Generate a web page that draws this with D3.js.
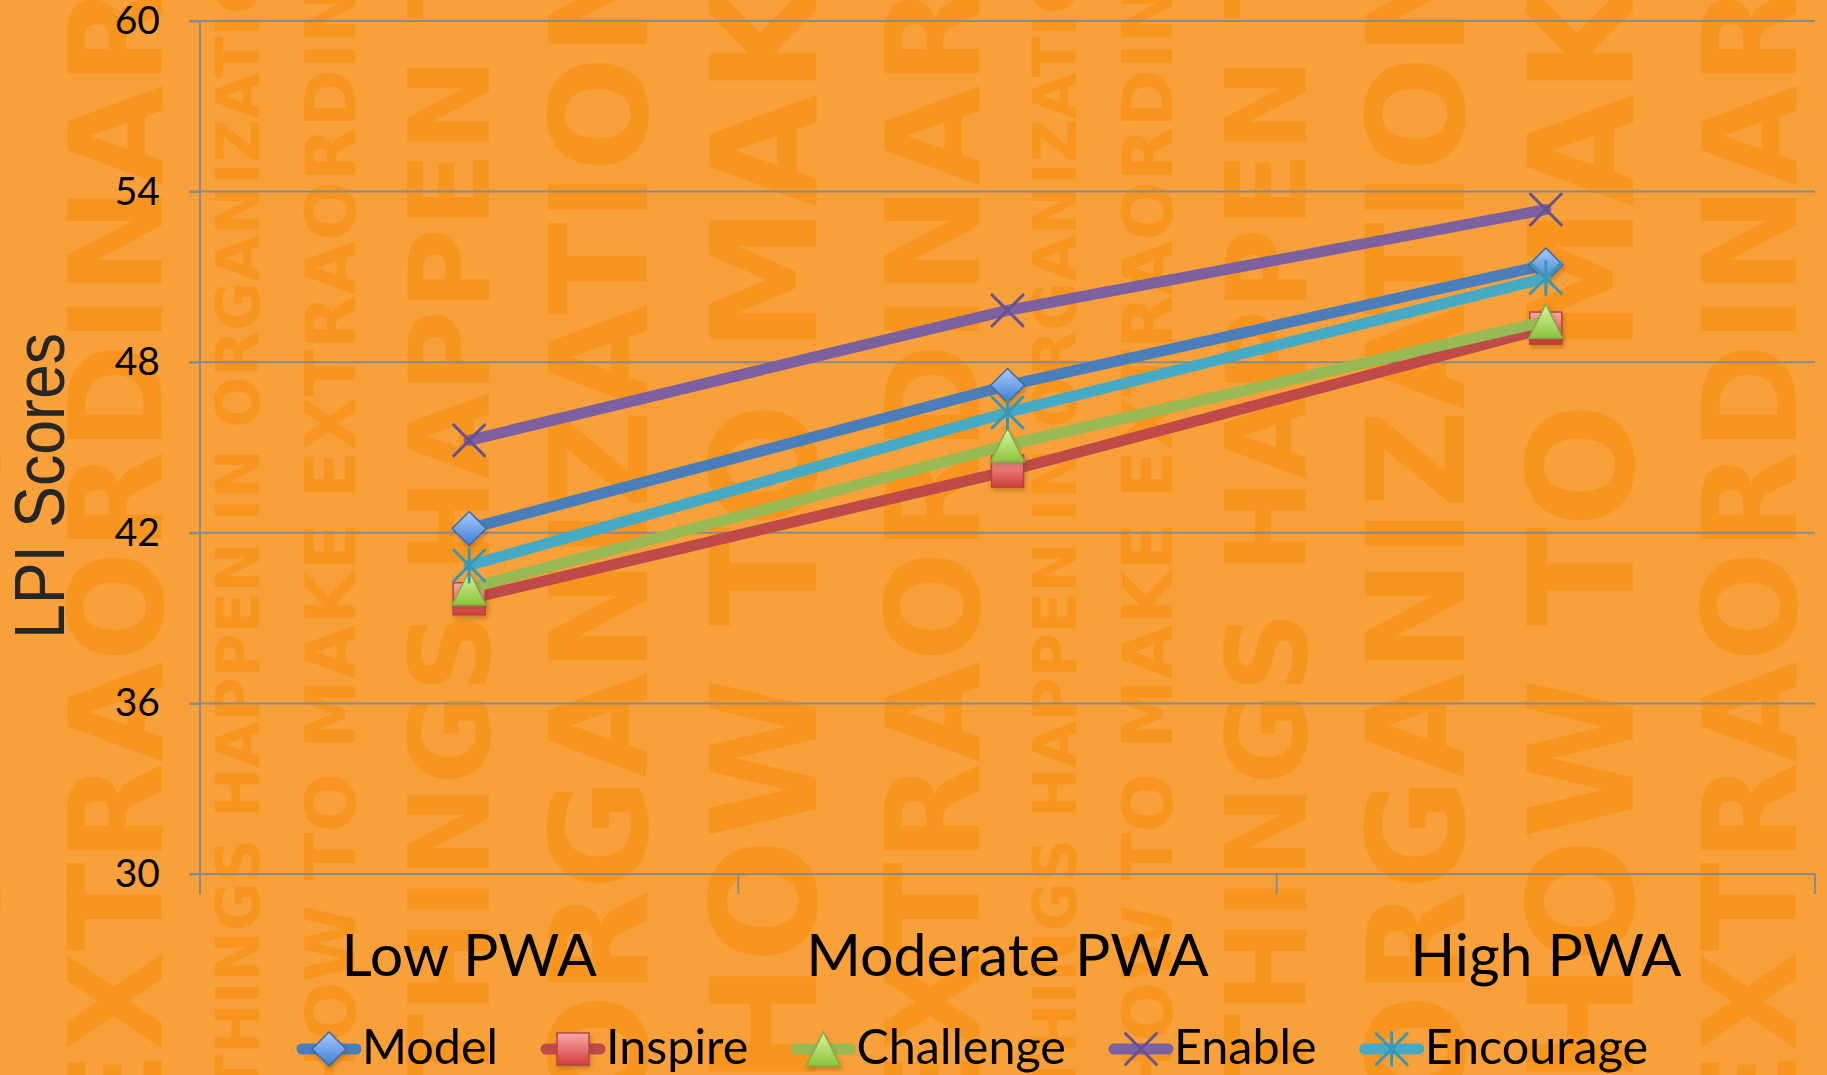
<!DOCTYPE html>
<html>
<head>
<meta charset="utf-8">
<script src="https://cdn.jsdelivr.net/npm/d3@7"></script>
<style>
  html, body { margin: 0; padding: 0; background: #f8a13b; overflow: hidden; }
  svg { display: block; }
</style>
</head>
<body>
<div id="chart"></div>
<script>
// LPI scores by PWA level

const CATEGORIES = ["Low PWA", "Moderate PWA", "High PWA"];
const SERIES     = ["Model", "Inspire", "Challenge", "Enable", "Encourage"];
const MODEL      = [42.15, 47.18, 51.42];
const INSPIRE    = [39.68, 44.17, 49.20];
const CHALLENGE  = [40.06, 45.09, 49.44];
const ENABLE     = [45.25, 49.82, 53.37];
const ENCOURAGE  = [40.85, 46.23, 50.96];
const Y_TICKS    = [30, 36, 42, 48, 54, 60];

const VALUES = { Model: MODEL, Inspire: INSPIRE, Challenge: CHALLENGE, Enable: ENABLE, Encourage: ENCOURAGE };

// background words (decoration)
const WM_COLS = [
  { x: 259, size: 60,  text: "THINGS HAPPEN IN ORGANIZATIONS", y: 1095 },
  { x: 355, size: 70,  text: "HOW TO MAKE EXTRAORDINARY",      y: 1100 },
  { x: 489, size: 112, text: "THINGS HAPPEN",                  y: 1090 },
  { x: 647, size: 136, text: "ORGANIZATIONS",                  y: 1110 },
  { x: 816, size: 146, text: "HOW TO MAKE",                    y: 1085 },
  { x: 979, size: 130, text: "EXTRAORDINARY",                  y: 1140 }
];
const WM_PERIOD = 817;

const style = {
  Model:     { line: "#4a7ebb", kind: "diamond",  top: "#a9cbf7", bot: "#3c7fd8", edge: "#3b68a6" },
  Inspire:   { line: "#be4b48", kind: "square",   top: "#f9a9a8", bot: "#d23c3b", edge: "#b4453f" },
  Challenge: { line: "#98b954", kind: "triangle", top: "#dcf7a2", bot: "#8ac43a", edge: "#86a84a" },
  Enable:    { line: "#7d60a0", kind: "x",        edge: "#67518f" },
  Encourage: { line: "#46aac5", kind: "star",     edge: "#3a97b0" }
};

const W = 1827, H = 1075;
const margin = { top: 21, right: 12, bottom: 201, left: 200 };
const FONT = "Lato, 'Open Sans', sans-serif";

const svg = d3.select("#chart").append("svg").attr("width", W).attr("height", H);
const defs = svg.append("defs");

// Background + watermark
svg.append("rect").attr("width", W).attr("height", H).attr("fill", "#f8a13b");
const wm = svg.append("g").attr("fill", "#f7951f")
  .style("font-family", "'DejaVu Sans', sans-serif").style("font-weight", 700);
[-1, 0, 1].forEach(k => {
  WM_COLS.forEach(c => {
    wm.append("text")
      .attr("transform", `translate(${c.x + k * WM_PERIOD},${c.y}) rotate(-90)`)
      .attr("font-size", c.size)
      .text(c.text + " " + c.text);
  });
});

// Gradients and shadow for markers
SERIES.forEach(s => {
  const st = style[s];
  if (!st.top) return;
  const g = defs.append("linearGradient").attr("id", "grad-" + s)
    .attr("x1", 0).attr("y1", 0).attr("x2", 0).attr("y2", 1);
  g.append("stop").attr("offset", "0%").attr("stop-color", st.top);
  g.append("stop").attr("offset", "100%").attr("stop-color", st.bot);
});
const shadow = defs.append("filter").attr("id", "shadow")
  .attr("x", "-50%").attr("y", "-50%").attr("width", "200%").attr("height", "200%");
shadow.append("feDropShadow").attr("dx", 1.5).attr("dy", 3).attr("stdDeviation", 2)
  .attr("flood-color", "#7a3d00").attr("flood-opacity", 0.35);

// Scales
const x = d3.scaleBand().domain(CATEGORIES).range([margin.left, W - margin.right]);
const cx = d => x(d) + x.bandwidth() / 2;
const y = d3.scaleLinear().domain([30, 60]).range([H - margin.bottom, margin.top]);

// Gridlines
const grid = svg.append("g");
grid.selectAll("line").data(Y_TICKS).join("line")
  .attr("x1", margin.left - 11).attr("x2", W - margin.right)
  .attr("y1", d => y(d)).attr("y2", d => y(d))
  .attr("stroke", "#8a8a8a").attr("stroke-width", 2);

// Y axis
const yAxis = svg.append("g").attr("transform", `translate(${margin.left},0)`)
  .call(d3.axisLeft(y).tickValues(Y_TICKS).tickSize(11).tickPadding(29));
yAxis.select(".domain").remove();
yAxis.selectAll(".tick line").attr("stroke", "#8a8a8a").attr("stroke-width", 2);
yAxis.selectAll(".tick text").attr("fill", "#000").attr("font-size", 39).attr("font-family", FONT);
svg.append("line")
  .attr("x1", margin.left).attr("x2", margin.left)
  .attr("y1", y(60)).attr("y2", y(30) + 20)
  .attr("stroke", "#8a8a8a").attr("stroke-width", 2);

// X axis
const xAxis = svg.append("g").attr("transform", `translate(0,${y(30)})`)
  .call(d3.axisBottom(x).tickSize(0).tickPadding(0));
xAxis.select(".domain").attr("stroke", "#8a8a8a").attr("stroke-width", 2).attr("d", `M${margin.left},0H${W - margin.right}`);
xAxis.selectAll(".tick text").attr("fill", "#000").attr("font-size", 59).attr("font-family", FONT)
  .attr("y", 102).attr("dy", 0);
const bounds = CATEGORIES.map(d => x(d)).concat([W - margin.right]);
xAxis.selectAll("line.sep").data(bounds).join("line").attr("class", "sep")
  .attr("x1", d => d).attr("x2", d => d).attr("y1", 0).attr("y2", 20)
  .attr("stroke", "#8a8a8a").attr("stroke-width", 2);

// Y title
svg.append("text")
  .attr("transform", "translate(64,486) rotate(-90)")
  .attr("text-anchor", "middle")
  .attr("font-family", "'Liberation Sans', Arial, sans-serif")
  .attr("font-size", 70).attr("fill", "#262626")
  .attr("textLength", 306).attr("lengthAdjust", "spacingAndGlyphs")
  .text("LPI Scores");

// Marker drawing
function marker(sel, s) {
  const st = style[s];
  const r = 17;
  if (st.kind === "diamond") {
    sel.append("path").attr("d", `M0,${-r}L${r},0L0,${r}L${-r},0Z`)
      .attr("fill", `url(#grad-${s})`).attr("stroke", st.edge).attr("stroke-width", 1.5)
      .attr("filter", "url(#shadow)");
  } else if (st.kind === "square") {
    sel.append("rect").attr("x", -r + 1).attr("y", -r + 1).attr("width", 2 * r - 2).attr("height", 2 * r - 2)
      .attr("fill", `url(#grad-${s})`).attr("stroke", st.edge).attr("stroke-width", 1.5)
      .attr("filter", "url(#shadow)");
  } else if (st.kind === "triangle") {
    sel.append("path").attr("d", `M0,${-r}L${r},${r}L${-r},${r}Z`)
      .attr("fill", `url(#grad-${s})`).attr("stroke", st.edge).attr("stroke-width", 1.5)
      .attr("filter", "url(#shadow)");
  } else {
    const a = 15.5;
    let d = `M${-a},${-a}L${a},${a}M${-a},${a}L${a},${-a}`;
    if (st.kind === "star") d += `M0,${-a - 1}L0,${a + 1}`;
    sel.append("path").attr("d", d).attr("fill", "none")
      .attr("stroke", st.edge).attr("stroke-width", 3).attr("stroke-linecap", "round");
  }
}

// Series
const line = d3.line().x(d => cx(d.cat)).y(d => y(d.v));
SERIES.forEach(s => {
  const pts = CATEGORIES.map((c, i) => ({ cat: c, v: VALUES[s][i] }));
  const g = svg.append("g");
  g.append("path").datum(pts).attr("d", line)
    .attr("fill", "none").attr("stroke", style[s].line).attr("stroke-width", 11)
    .attr("stroke-linejoin", "round").attr("stroke-linecap", "round");
  g.selectAll("g.m").data(pts).join("g").attr("class", "m")
    .attr("transform", d => `translate(${cx(d.cat)},${y(d.v)})`)
    .each(function() { marker(d3.select(this), s); });
});

// Legend
const legend = svg.append("g").attr("transform", `translate(298,1049)`);
let lx = 0;
SERIES.forEach(s => {
  const item = legend.append("g").attr("transform", `translate(${lx},0)`);
  item.append("line").attr("x1", 4).attr("x2", 58).attr("y1", 0).attr("y2", 0)
    .attr("stroke", style[s].line).attr("stroke-width", 11).attr("stroke-linecap", "round");
  const m = item.append("g").attr("transform", "translate(31,0)");
  marker(m, s);
  const t = item.append("text").attr("x", 64).attr("y", 15)
    .attr("font-family", FONT).attr("font-size", 48.5).attr("fill", "#000").text(s);
  lx += 64 + t.node().getComputedTextLength() + 44;
});
</script>
</body>
</html>
